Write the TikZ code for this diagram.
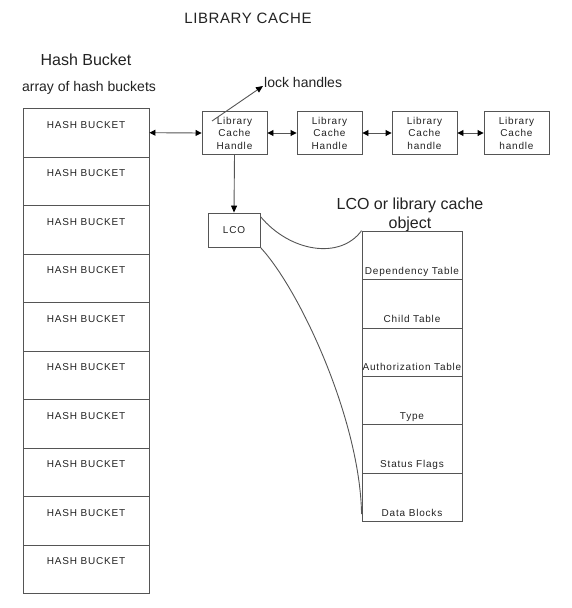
\documentclass[tikz,border=0pt]{standalone}
\usepackage{fontspec}
\setmainfont{Liberation Sans}
\newfontfamily\boxfont[LetterSpace=8]{Liberation Sans}
\newfontfamily\titlefont[LetterSpace=4]{Liberation Sans}
\usepackage{tikz}
\usetikzlibrary{arrows.meta, positioning, calc}
\definecolor{linegray}{HTML}{555555}
\definecolor{inkgray}{HTML}{222222}

\begin{document}
\begin{tikzpicture}[x=1pt, y=-1pt,
  box/.style={draw=linegray, line width=0.9pt, inner sep=0pt, text=inkgray},
  bucket/.style={box, minimum width=126pt, text height=20pt, text depth=28.5pt, font=\fontsize{10}{10}\selectfont\boxfont},
  tcell/.style={box, minimum width=100pt, text height=42.9pt, text depth=5.5pt, font=\fontsize{10}{10}\selectfont\boxfont},
  handle/.style={box, minimum width=65pt, minimum height=43pt, align=center, font=\fontsize{10}{12.5}\selectfont\boxfont},
  heading/.style={text=inkgray, inner sep=1pt},
  link/.style={linegray, line width=0.9pt},
  tip/.style={-{Triangle[length=7pt,width=6pt,color=black]}},
  dbl/.style={link, {Triangle[length=6pt,width=6pt,color=black]}-{Triangle[length=6pt,width=6pt,color=black]}}
]
  \useasboundingbox (0,0) rectangle (572,608);

  % Headings
  \node[heading, font=\fontsize{15}{15}\selectfont\titlefont] (title) at (248,18) {LIBRARY CACHE};
  \node[heading, font=\fontsize{16}{16}\selectfont] (hashhead) at (86,60) {Hash Bucket};
  \node[heading, font=\fontsize{14}{14}\selectfont] (arrayhead) at (89,88) {array of hash buckets};

  % Array of hash buckets
  \foreach \i in {0,...,9} {
    \node[bucket, anchor=north] (hb\i) at (86, {108+48.5*\i}) {HASH BUCKET};
  }

  % Chain of library cache handles
  \foreach \x/\name/\txt in {234.5/h1/Handle, 329.5/h2/Handle, 424.5/h3/handle, 516.5/h4/handle} {
    \node[handle] (\name) at (\x,133) {Library\\Cache\\\txt};
  }
  \draw[dbl] (hb0.east) -- (h1.west);
  \foreach \a/\b in {h1/h2, h2/h3, h3/h4} {
    \draw[dbl] (\a.east) -- (\b.west);
  }

  % Lock handles
  \node[heading, anchor=west, font=\fontsize{14}{14}\selectfont] (lock) at (263,82) {lock handles};
  \coordinate (lockstart) at (212,121);
  \draw[link, tip] (lockstart) -- ([yshift=-4pt]lock.west);

  % Library cache object
  \node[box, minimum width=52pt, minimum height=34pt, font=\fontsize{10}{10}\selectfont\boxfont] (lco) at (234,230) {LCO};
  \draw[link, tip] (h1.south) -- (lco.north);

  \node[heading, align=center, font=\fontsize{16}{19}\selectfont] (lcohead) at (410,214.5) {LCO or library cache\\object};
  \foreach \lbl [count=\i from 0] in {Dependency Table, Child Table, Authorization Table, Type, Status Flags, Data Blocks} {
    \node[tcell, anchor=north] (tb\i) at (412, {230.7+48.4*\i}) {\lbl};
  }

  % Curves from the LCO to its table
  \draw[link] ([yshift=-4pt]lco.north east) .. controls (290,252) and (340,260) .. (tb0.north west);
  \draw[link] (lco.south east) .. controls (300,290) and (360,420) .. ([yshift=8pt]tb5.south west);
\end{tikzpicture}
\end{document}
